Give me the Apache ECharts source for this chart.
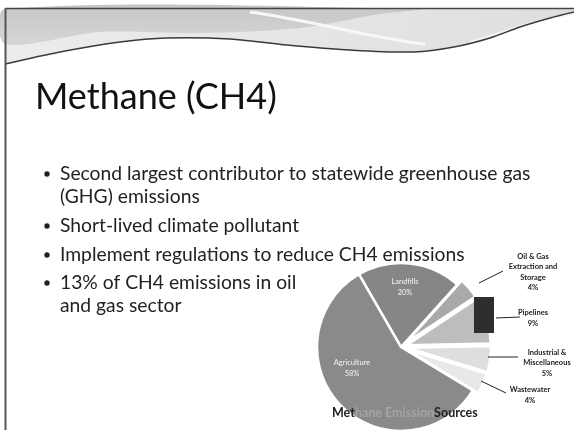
<!DOCTYPE html>
<html><head><meta charset="utf-8">
<script src="https://cdn.jsdelivr.net/npm/echarts@6/dist/echarts.min.js"></script>
<style>html,body{margin:0;padding:0;background:#fff}#c{width:574px;height:430px}</style>
</head><body><div id="c"></div>
<script>
const slideTitle = 'Methane (CH4)';
const bullets = [
  'Second largest contributor to statewide greenhouse gas\n(GHG) emissions',
  'Short-lived climate pollutant',
  'Implement regulations to reduce CH4 emissions',
  '13% of CH4 emissions in oil\nand gas sector'
];
const categories = ['Landfills', 'Oil & Gas\nExtraction and\nStorage', 'Pipelines', 'Industrial &\nMiscellaneous', 'Wastewater', 'Agriculture'];
const values = [20, 4, 9, 5, 4, 58];
const sliceColors = ['#868686', '#a9a9a9', '#bdbdbd', '#dedede', '#e8e8e8', '#8a8a8a'];
const insideIdx = [0, 5];
// layout only: inside label centres, outside callout centres and leader lines
const insideLabelPos = {0: [405, 287], 5: [352, 368]};
const calloutCfg = {
  1: {x: 533, y: 272, line: [[479, 283], [503, 271]]},
  2: {x: 533, y: 318, line: [[496, 318], [520, 317]]},
  3: {x: 547, y: 363, line: [[488, 357], [518, 357]]},
  4: {x: 530, y: 395, line: [[481, 381], [506, 393]]}
};

const chart = echarts.init(document.getElementById('c'), null, {renderer: 'canvas'});
const font = 'Lato, "Open Sans", sans-serif';

const wavePts = [[5,64],[60,52],[120,42],[167,38],[230,39],[287,45],[350,50],[414,52],[454,47],[490,38],[520,27],[550,18],[574,12]];
const bulletYs = [174, 226, 255, 283];
const graphics = [
  // light base under the whole band
  {type: 'polygon', shape: {points: [[5,9],[574,9]].concat(wavePts.slice().reverse()), smooth: 0},
   style: {fill: new echarts.graphic.LinearGradient(0,0,1,0,[{offset:0,color:'#ececec'},{offset:0.5,color:'#e6e6e6'},{offset:1,color:'#dedede'}])}, z: 1},
  // darker grey upper area (left / middle)
  {type: 'polygon', shape: {points: [[5,9],[420,9],[380,14],[300,28],[200,33],[100,32],[5,44]], smooth: 0.3},
   style: {fill: new echarts.graphic.LinearGradient(0,0,0,1,[{offset:0,color:'#c6c6c6'},{offset:1,color:'#d6d6d6'}])}, z: 2},
  // white swoosh
  {type: 'bezierCurve', shape: {x1: 250, y1: 12, cpx1: 310, cpy1: 20, cpx2: 370, cpy2: 38, x2: 425, y2: 44},
   style: {stroke: '#f7f7f7', lineWidth: 3, fill: null}, z: 3},
  {type: 'bezierCurve', shape: {x1: 470, y1: 42, cpx1: 510, cpy1: 30, cpx2: 540, cpy2: 18, x2: 574, y2: 14},
   style: {stroke: '#f4f4f4', lineWidth: 2, fill: null}, z: 3},
  {type: 'polyline', shape: {points: wavePts, smooth: 0.3},
   style: {stroke: '#3a3a3a', lineWidth: 1.5, fill: null}, z: 4},
  {type: 'line', shape: {x1: 5, y1: 8.5, x2: 574, y2: 8.5}, style: {stroke: '#444', lineWidth: 1.5}, z: 4},
  {type: 'line', shape: {x1: 5.5, y1: 8, x2: 5.5, y2: 430}, style: {stroke: '#555', lineWidth: 2}, z: 4},
  {type: 'text', left: 35, top: 79, style: {text: slideTitle, font: '36px ' + font, fill: '#111'}, z: 5},
  {type: 'rect', shape: {x: 474, y: 297, width: 20, height: 36}, style: {fill: '#2e2e2e'}, z: 20},
  {type: 'text', left: 332, top: 406, style: {text: '{a|Met}{b|hane Emission}{a|Sources}', rich: {
     a: {font: 'bold 12.5px ' + font, fill: '#222'}, b: {font: 'bold 12.5px ' + font, fill: '#a3a3a3'}}}, z: 30}
];
bullets.forEach((b, i) => {
  graphics.push({type: 'circle', shape: {cx: 47, cy: bulletYs[i], r: 2.7}, style: {fill: '#222'}, z: 5});
  graphics.push({type: 'text', left: 60, top: bulletYs[i] - 12, style: {text: b, font: '19.3px ' + font, fill: '#222', lineHeight: 23}, z: 5});
});
Object.keys(calloutCfg).forEach(k => {
  const i = +k, c = calloutCfg[k];
  graphics.push({type: 'polyline', shape: {points: c.line}, style: {stroke: '#222', lineWidth: 1, fill: null}, z: 25});
  graphics.push({type: 'text', x: c.x, y: c.y, style: {text: categories[i] + '\n' + values[i] + '%',
    font: 'bold 7.5px ' + font, fill: '#222', align: 'center', verticalAlign: 'middle', lineHeight: 10.5}, z: 25});
});

chart.setOption({
  animation: false,
  backgroundColor: '#fff',
  graphic: graphics,
  series: [{
    type: 'pie',
    center: [401, 347],
    radius: 84,
    startAngle: 120,
    clockwise: true,
    z: 10,
    selectedMode: 'multiple',
    selectedOffset: 6,
    itemStyle: {borderColor: '#fff', borderWidth: 2.5},
    data: categories.map((n, i) => {
      const inside = insideIdx.includes(i);
      return {
        name: n, value: values[i], selected: !inside,
        itemStyle: {color: sliceColors[i]},
        label: {show: inside, position: 'inside', color: '#f4f4f4', fontSize: 7.5, lineHeight: 11, fontFamily: font},
        labelLine: {show: false}
      };
    }),
    label: {formatter: '{b}\n{c}%'},
    labelLayout: function (p) {
      const c = insideLabelPos[p.dataIndex];
      if (!c) return {};
      return {x: c[0], y: c[1], align: 'center', verticalAlign: 'middle'};
    }
  }]
});
</script></body></html>
